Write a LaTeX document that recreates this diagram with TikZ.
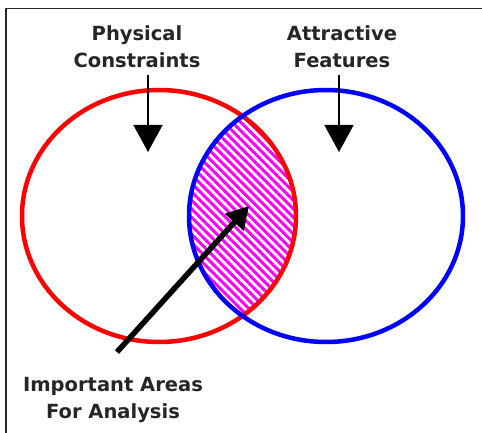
\documentclass[tikz,border=0pt]{standalone}
\usepackage{fontspec}
\setmainfont{DejaVu Sans}
\usetikzlibrary{arrows.meta,patterns.meta}
\tikzset{
  lbl/.style={font=\bfseries\fontsize{19.5}{27}\selectfont, align=center, inner sep=0pt, text=black!85},
  ring/.style={line width=4.5pt},
  downarrow/.style={line width=1.6pt, -{Triangle[width=29pt,length=27pt]}},
  bigarrow/.style={line width=5.5pt, -{Triangle[width=24pt,length=22pt]}}
}
\begin{document}
\begin{tikzpicture}[x=1pt,y=-1pt]
\useasboundingbox (0,0) rectangle (482,433);
\fill[white] (0,0) rectangle (482,433);
% frame
\draw[line width=1.6pt, black!85] (6,433) -- (6,8.5) -- (482,8.5);
% hatched intersection
\begin{scope}
  \clip (159,216) ellipse [x radius=137, y radius=126];
  \fill[pattern={Lines[angle=-45,distance=6pt,line width=3pt]}, pattern color=magenta]
    (326,216) ellipse [x radius=137, y radius=126];
\end{scope}
% ellipses
\draw[ring, red] (159,216) ellipse [x radius=137, y radius=126];
\draw[ring, blue] (326,216) ellipse [x radius=137, y radius=126];
% labels
\node[lbl] (phys) at (137,47) {Physical\\Constraints};
\node[lbl] (attr) at (342,47) {Attractive\\Features};
\node[lbl] (imp) at (113,400) {Important Areas\\For Analysis};
% arrows
\coordinate (pa) at (148,75);
\coordinate (pt) at (148,152);
\coordinate (aa) at (339,75);
\coordinate (at) at (339,152);
\coordinate (ia) at (117,352);
\coordinate (it) at (249,206);
\draw[downarrow] (pa) -- (pt);
\draw[downarrow] (aa) -- (at);
\draw[bigarrow] (ia) -- (it);
\end{tikzpicture}
\end{document}
